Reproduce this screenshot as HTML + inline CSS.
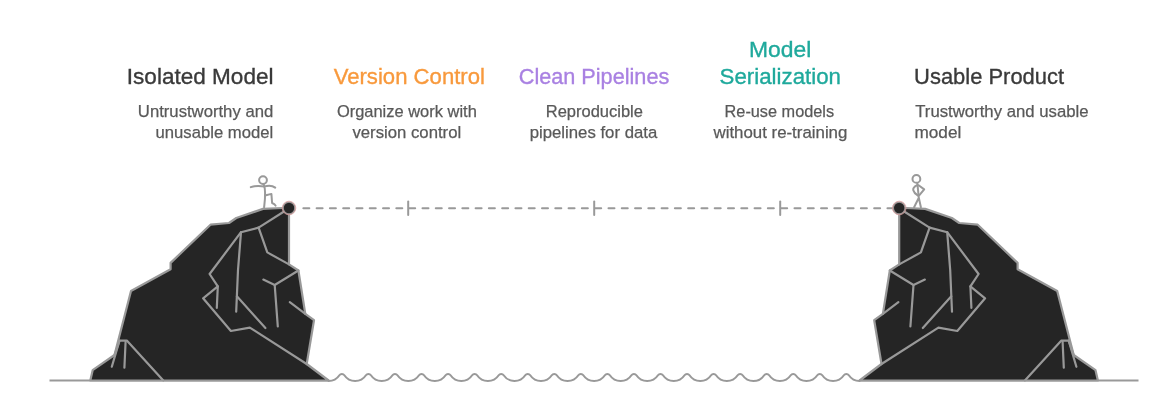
<!DOCTYPE html>
<html><head><meta charset="utf-8"><title>Bridge</title>
<style>
html,body{margin:0;padding:0;background:#fff;}
body{width:1152px;height:411px;overflow:hidden;font-family:"Liberation Sans",sans-serif;}
svg{display:block;position:absolute;left:0;top:0;}
svg text{font-family:"Liberation Sans",sans-serif;}
</style></head><body>
<svg width="1152" height="411" viewBox="0 0 1152 411">
<rect width="1152" height="411" fill="#fff"/>
<line x1="49.5" y1="380.6" x2="1138.5" y2="380.6" stroke="#999" stroke-width="2"/>
<rect x="329" y="378" width="530" height="5" fill="#fff"/>
<path d="M328.60,381.0 a12.96,12.96 0 0 0 10.78,-5.77 a3.0,3.0 0 0 1 4.99,0 a12.96,12.96 0 0 0 10.78,5.77 a12.96,12.96 0 0 0 10.78,-5.77 a3.0,3.0 0 0 1 4.99,0 a12.96,12.96 0 0 0 10.78,5.77 a12.96,12.96 0 0 0 10.78,-5.77 a3.0,3.0 0 0 1 4.99,0 a12.96,12.96 0 0 0 10.78,5.77 a12.96,12.96 0 0 0 10.78,-5.77 a3.0,3.0 0 0 1 4.99,0 a12.96,12.96 0 0 0 10.78,5.77 a12.96,12.96 0 0 0 10.78,-5.77 a3.0,3.0 0 0 1 4.99,0 a12.96,12.96 0 0 0 10.78,5.77 a12.96,12.96 0 0 0 10.78,-5.77 a3.0,3.0 0 0 1 4.99,0 a12.96,12.96 0 0 0 10.78,5.77 a12.96,12.96 0 0 0 10.78,-5.77 a3.0,3.0 0 0 1 4.99,0 a12.96,12.96 0 0 0 10.78,5.77 a12.96,12.96 0 0 0 10.78,-5.77 a3.0,3.0 0 0 1 4.99,0 a12.96,12.96 0 0 0 10.78,5.77 a12.96,12.96 0 0 0 10.78,-5.77 a3.0,3.0 0 0 1 4.99,0 a12.96,12.96 0 0 0 10.78,5.77 a12.96,12.96 0 0 0 10.78,-5.77 a3.0,3.0 0 0 1 4.99,0 a12.96,12.96 0 0 0 10.78,5.77 a12.96,12.96 0 0 0 10.78,-5.77 a3.0,3.0 0 0 1 4.99,0 a12.96,12.96 0 0 0 10.78,5.77 a12.96,12.96 0 0 0 10.78,-5.77 a3.0,3.0 0 0 1 4.99,0 a12.96,12.96 0 0 0 10.78,5.77 a12.96,12.96 0 0 0 10.78,-5.77 a3.0,3.0 0 0 1 4.99,0 a12.96,12.96 0 0 0 10.78,5.77 a12.96,12.96 0 0 0 10.78,-5.77 a3.0,3.0 0 0 1 4.99,0 a12.96,12.96 0 0 0 10.78,5.77 a12.96,12.96 0 0 0 10.78,-5.77 a3.0,3.0 0 0 1 4.99,0 a12.96,12.96 0 0 0 10.78,5.77 a12.96,12.96 0 0 0 10.78,-5.77 a3.0,3.0 0 0 1 4.99,0 a12.96,12.96 0 0 0 10.78,5.77 a12.96,12.96 0 0 0 10.78,-5.77 a3.0,3.0 0 0 1 4.99,0 a12.96,12.96 0 0 0 10.78,5.77 a12.96,12.96 0 0 0 10.78,-5.77 a3.0,3.0 0 0 1 4.99,0 a12.96,12.96 0 0 0 10.78,5.77 a12.96,12.96 0 0 0 10.78,-5.77 a3.0,3.0 0 0 1 4.99,0 a12.96,12.96 0 0 0 10.78,5.77 a12.96,12.96 0 0 0 10.78,-5.77 a3.0,3.0 0 0 1 4.99,0 a12.96,12.96 0 0 0 10.78,5.77" fill="none" stroke="#999" stroke-width="2" stroke-linecap="round"/>
<line x1="302.33" y1="208.2" x2="408.2" y2="208.2" stroke="#999" stroke-width="2" stroke-dasharray="6 7.28" stroke-dashoffset="-1" stroke-linecap="round"/>
<line x1="408.2" y1="208.2" x2="594.2" y2="208.2" stroke="#999" stroke-width="2" stroke-dasharray="6 7.28" stroke-dashoffset="-1" stroke-linecap="round"/>
<line x1="594.2" y1="208.2" x2="780.2" y2="208.2" stroke="#999" stroke-width="2" stroke-dasharray="6 7.28" stroke-dashoffset="-1" stroke-linecap="round"/>
<line x1="780.2" y1="208.2" x2="893" y2="208.2" stroke="#999" stroke-width="2" stroke-dasharray="6 7.28" stroke-dashoffset="-1" stroke-linecap="round"/>
<line x1="408.2" y1="201.4" x2="408.2" y2="214.9" stroke="#999" stroke-width="2" stroke-linecap="round"/>
<line x1="594.2" y1="201.4" x2="594.2" y2="214.9" stroke="#999" stroke-width="2" stroke-linecap="round"/>
<line x1="780.2" y1="201.4" x2="780.2" y2="214.9" stroke="#999" stroke-width="2" stroke-linecap="round"/>

<polygon points="289.0,208.0 282.5,208.0 263.0,208.9 236.3,218.0 229.0,223.0 210.5,224.7 170.6,262.9 170.6,269.3 131.0,291.0 114.5,355.0 92.7,370.2 90.3,380.5 328.6,380.5 306.7,364.0 314.0,320.2 305.3,313.8 298.4,270.5 289.0,264.4" fill="#252525" stroke="#999" stroke-width="2.2" stroke-linejoin="round"/>
<polyline points="288.0,209.0 258.6,227.6 241.0,232.2 209.6,274.0 217.8,286.4 203.1,298.3 230.9,331.0 249.8,327.6 306.7,364.0" fill="none" stroke="#999" stroke-width="2.2" stroke-linecap="round" stroke-linejoin="round"/>
<polyline points="241.0,232.2 238.0,270.0 236.2,311.7" fill="none" stroke="#999" stroke-width="2.2" stroke-linecap="round" stroke-linejoin="round"/>
<polyline points="217.8,286.4 216.8,307.9" fill="none" stroke="#999" stroke-width="2.2" stroke-linecap="round" stroke-linejoin="round"/>
<polyline points="236.9,296.3 265.4,328.0" fill="none" stroke="#999" stroke-width="2.2" stroke-linecap="round" stroke-linejoin="round"/>
<polyline points="258.6,227.6 267.3,252.4 289.0,264.4" fill="none" stroke="#999" stroke-width="2.2" stroke-linecap="round" stroke-linejoin="round"/>
<polyline points="298.4,270.5 274.7,285.0 263.3,279.6" fill="none" stroke="#999" stroke-width="2.2" stroke-linecap="round" stroke-linejoin="round"/>
<polyline points="274.7,285.0 277.8,326.5" fill="none" stroke="#999" stroke-width="2.2" stroke-linecap="round" stroke-linejoin="round"/>
<polyline points="289.8,302.1 305.3,313.8" fill="none" stroke="#999" stroke-width="2.2" stroke-linecap="round" stroke-linejoin="round"/>
<polyline points="114.5,355.0 119.5,340.6 126.8,340.6 163.3,380.5" fill="none" stroke="#999" stroke-width="2.2" stroke-linecap="round" stroke-linejoin="round"/>
<polyline points="119.5,340.6 111.8,366.8" fill="none" stroke="#999" stroke-width="2.2" stroke-linecap="round" stroke-linejoin="round"/>
<polyline points="125.6,341.5 124.4,367.7" fill="none" stroke="#999" stroke-width="2.2" stroke-linecap="round" stroke-linejoin="round"/>
<polygon points="899.2,208.0 905.7,208.0 925.2,208.9 951.9,218.0 959.2,223.0 977.7,224.7 1017.6,262.9 1017.6,269.3 1057.2,291.0 1073.7,355.0 1095.5,370.2 1097.9,380.5 859.6,380.5 881.5,364.0 874.2,320.2 882.9,313.8 889.8,270.5 899.2,264.4" fill="#252525" stroke="#999" stroke-width="2.2" stroke-linejoin="round"/>
<polyline points="900.2,209.0 929.6,227.6 947.2,232.2 978.6,274.0 970.4,286.4 985.1,298.3 957.3,331.0 938.4,327.6 881.5,364.0" fill="none" stroke="#999" stroke-width="2.2" stroke-linecap="round" stroke-linejoin="round"/>
<polyline points="947.2,232.2 950.2,270.0 952.0,311.7" fill="none" stroke="#999" stroke-width="2.2" stroke-linecap="round" stroke-linejoin="round"/>
<polyline points="970.4,286.4 971.4,307.9" fill="none" stroke="#999" stroke-width="2.2" stroke-linecap="round" stroke-linejoin="round"/>
<polyline points="951.3,296.3 922.8,328.0" fill="none" stroke="#999" stroke-width="2.2" stroke-linecap="round" stroke-linejoin="round"/>
<polyline points="929.6,227.6 920.9,252.4 899.2,264.4" fill="none" stroke="#999" stroke-width="2.2" stroke-linecap="round" stroke-linejoin="round"/>
<polyline points="889.8,270.5 913.5,285.0 924.9,279.6" fill="none" stroke="#999" stroke-width="2.2" stroke-linecap="round" stroke-linejoin="round"/>
<polyline points="913.5,285.0 910.4,326.5" fill="none" stroke="#999" stroke-width="2.2" stroke-linecap="round" stroke-linejoin="round"/>
<polyline points="898.4,302.1 882.9,313.8" fill="none" stroke="#999" stroke-width="2.2" stroke-linecap="round" stroke-linejoin="round"/>
<polyline points="1073.7,355.0 1068.7,340.6 1061.4,340.6 1024.9,380.5" fill="none" stroke="#999" stroke-width="2.2" stroke-linecap="round" stroke-linejoin="round"/>
<polyline points="1068.7,340.6 1076.4,366.8" fill="none" stroke="#999" stroke-width="2.2" stroke-linecap="round" stroke-linejoin="round"/>
<polyline points="1062.6,341.5 1063.8,367.7" fill="none" stroke="#999" stroke-width="2.2" stroke-linecap="round" stroke-linejoin="round"/>

<g fill="none" stroke="#999" stroke-width="2" stroke-linecap="round" stroke-linejoin="round">
<circle cx="263" cy="180.1" r="3.9"/>
<path d="M250.8,187.2 C255,185.4 259,185.6 264.6,186.4 C268.5,185.4 272.5,185.6 275.2,187.6"/>
<path d="M263.9,184.8 C266.2,191 265.2,198 264.1,207.3"/>
<path d="M266,195.2 L271.4,193.9 L272.1,203 C273.5,203.6 275,204.4 275.6,205.6"/>
</g>
<g fill="none" stroke="#999" stroke-width="2" stroke-linecap="round" stroke-linejoin="round">
<circle cx="916.4" cy="178.9" r="3.9"/>
<path d="M917.4,183.6 L918.8,197.8 L914.1,207.3 M918.8,197.8 L920.9,207.3"/>
<path d="M917.2,185.2 C914.5,186.5 912.8,188.5 913.3,190.3 C913.8,192.3 915.8,194.2 917.7,195.4"/>
<path d="M918.6,185.2 L924.2,189.4 L919.4,195.2"/>
</g>
<circle cx="289" cy="208" r="5.9" fill="#252525" stroke="#9a9494" stroke-width="1.4"/>
<circle cx="289" cy="208" r="6.8" fill="none" stroke="#d89c9c" stroke-width="0.8"/>
<circle cx="899.2" cy="208" r="5.9" fill="#252525" stroke="#9a9494" stroke-width="1.4"/>
<circle cx="899.2" cy="208" r="6.8" fill="none" stroke="#d89c9c" stroke-width="0.8"/>
<g style="will-change:transform">
<text x="126.8020304568528" y="83.5" font-size="22.5" fill="#3a3a3a" stroke="#3a3a3a" stroke-width="0.35" textLength="146.7" lengthAdjust="spacingAndGlyphs">Isolated Model</text>
<text x="333.654605263158" y="83.5" font-size="22.5" fill="#f8993c" stroke="#f8993c" stroke-width="0.35" textLength="151.3" lengthAdjust="spacingAndGlyphs">Version Control</text>
<text x="518.7697095435686" y="83.5" font-size="22.5" fill="#a981e2" stroke="#a981e2" stroke-width="0.35" textLength="150.5" lengthAdjust="spacingAndGlyphs">Clean Pipelines</text>
<text x="749.0513447432762" y="56.7" font-size="22.5" fill="#1fa99c" stroke="#1fa99c" stroke-width="0.35" textLength="62.3" lengthAdjust="spacingAndGlyphs">Model</text>
<text x="719.5929095354525" y="83.5" font-size="22.5" fill="#1fa99c" stroke="#1fa99c" stroke-width="0.35" textLength="121.4" lengthAdjust="spacingAndGlyphs">Serialization</text>
<text x="914.0939086294414" y="83.5" font-size="22.5" fill="#3a3a3a" stroke="#3a3a3a" stroke-width="0.35" textLength="150.0" lengthAdjust="spacingAndGlyphs">Usable Product</text>
<text x="137.83734939759037" y="117" font-size="16.8" fill="#595959" stroke="#595959" stroke-width="0.25" textLength="135.4" lengthAdjust="spacingAndGlyphs">Untrustworthy and</text>
<text x="155.5602409638554" y="137.5" font-size="16.8" fill="#595959" stroke="#595959" stroke-width="0.25" textLength="117.6" lengthAdjust="spacingAndGlyphs">unusable model</text>
<text x="336.8975903614459" y="117" font-size="16.8" fill="#595959" stroke="#595959" stroke-width="0.25" textLength="139.9" lengthAdjust="spacingAndGlyphs">Organize work with</text>
<text x="352.4578313253011" y="137.5" font-size="16.8" fill="#595959" stroke="#595959" stroke-width="0.25" textLength="108.7" lengthAdjust="spacingAndGlyphs">version control</text>
<text x="545.7710843373492" y="117" font-size="16.8" fill="#595959" stroke="#595959" stroke-width="0.25" textLength="97.2" lengthAdjust="spacingAndGlyphs">Reproducible</text>
<text x="529.6807228915665" y="137.5" font-size="16.8" fill="#595959" stroke="#595959" stroke-width="0.25" textLength="127.6" lengthAdjust="spacingAndGlyphs">pipelines for data</text>
<text x="724.5662650602409" y="117" font-size="16.8" fill="#595959" stroke="#595959" stroke-width="0.25" textLength="109.5" lengthAdjust="spacingAndGlyphs">Re-use models</text>
<text x="713.4759036144577" y="137.5" font-size="16.8" fill="#595959" stroke="#595959" stroke-width="0.25" textLength="133.9" lengthAdjust="spacingAndGlyphs">without re-training</text>
<text x="915.234939759036" y="117" font-size="16.8" fill="#595959" stroke="#595959" stroke-width="0.25" textLength="173.3" lengthAdjust="spacingAndGlyphs">Trustworthy and usable</text>
<text x="914.4999999999998" y="137.5" font-size="16.8" fill="#595959" stroke="#595959" stroke-width="0.25" textLength="46.8" lengthAdjust="spacingAndGlyphs">model</text>
</g>
</svg>
</body></html>
